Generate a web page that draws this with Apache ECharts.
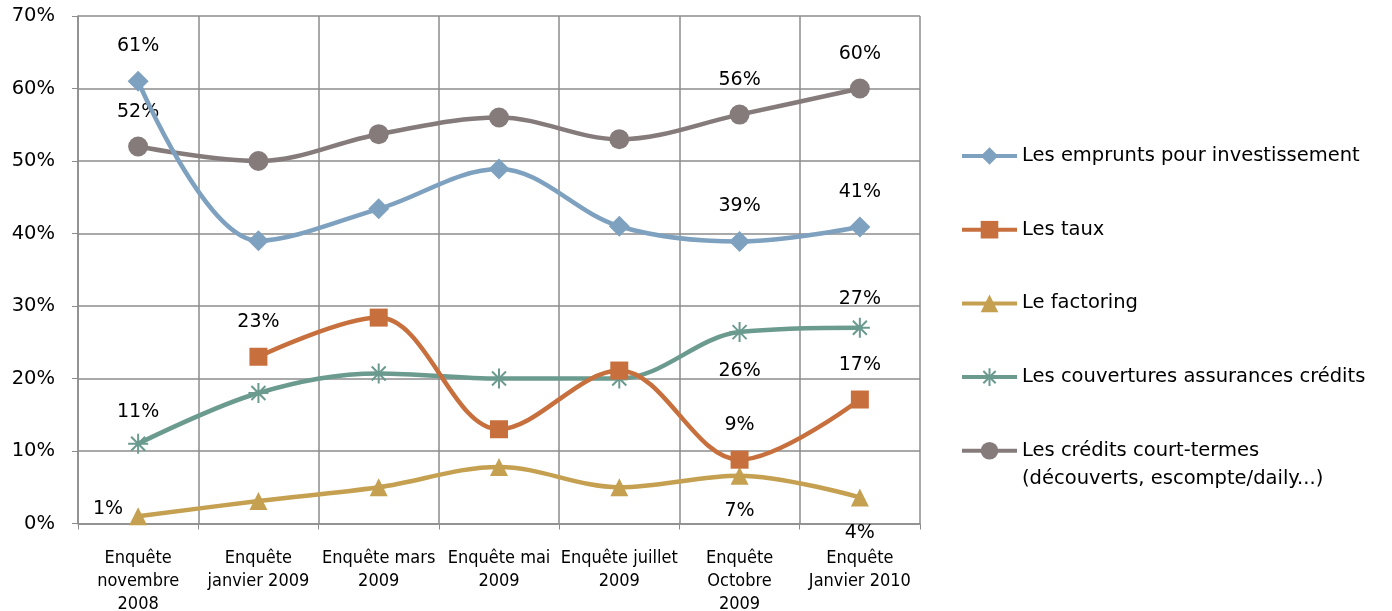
<!DOCTYPE html>
<html><head><meta charset="utf-8">
<script src="https://cdn.jsdelivr.net/npm/echarts@6/dist/echarts.min.js"></script>
<style>html,body{margin:0;padding:0;background:#fff;overflow:hidden}#c{width:1392px;height:611px}</style>
</head><body><div id="c"></div>
<script>
const categories = ["Enquête\nnovembre\n2008","Enquête\njanvier 2009","Enquête mars\n2009","Enquête mai\n2009","Enquête juillet\n2009","Enquête\nOctobre\n2009","Enquête\nJanvier 2010"];
const seriesNames = ["Les emprunts pour investissement","Les taux","Le factoring","Les couvertures assurances crédits","Les crédits court-termes"];
const lastLegendLine2 = "(découverts, escompte/daily...)";
const emprunts = [61, 39, 43.4, 48.9, 41, 38.9, 40.9];
const taux = [null, 23, 28.4, 13, 21.1, 8.8, 17.1];
const factoring = [1, 3.1, 5.0, 7.8, 5.0, 6.6, 3.6];
const couvertures = [11, 18, 20.7, 20, 20, 26.4, 27];
const credits = [52, 50, 53.7, 56, 53, 56.4, 60];
const yTicks = {min: 0, max: 70, interval: 10};

// label placement: [index, position, distance]
const labelSpecs = [
  [[0,'top',15],[5,'top',15],[6,'top',15]],
  [[1,'top',16],[5,'top',16],[6,'top',16]],
  [[0,'left',6],[5,'bottom',17],[6,'bottom',17]],
  [[0,'top',11],[5,'bottom',18],[6,'top',8]],
  [[0,'top',15],[5,'top',15],[6,'top',15]]
];
const colors = ['#7ea1bf','#c7703d','#c4a050','#6b9a8f','#857b7b'];
const symbols = ['diamond','rect','triangle','path://M0,-10 L0,10 M-10,0 L10,0 M-7,-7 L7,7 M-7,7 L7,-7','circle'];
const symSizes = [21,18,18,20,20];
const allData = [emprunts, taux, factoring, couvertures, credits];
const FONT = "'DejaVu Sans', sans-serif";
const FS = 19;
const LFS = 19.5;

function buildData(arr, specs){
  return arr.map((v,i)=>{
    const s = specs.find(p=>p[0]===i);
    if(!s || v===null) return v;
    const lab = {show:true, position:s[1], distance:s[2]};
    if(s[1]==='left') lab.offset=[0,-7];
    return {value:v, label:lab};
  });
}

const series = allData.map((arr,k)=>({
  name: seriesNames[k],
  type:'line',
  smooth:0.35,
  data: buildData(arr, labelSpecs[k]),
  symbol: symbols[k],
  symbolSize: symSizes[k],
  showAllSymbol:true,
  lineStyle:{width:4.5, color:colors[k]},
  itemStyle:{color:colors[k], borderColor:colors[k], borderWidth: k===3?2:0},
  label:{show:false, formatter:p=>Math.round(p.value)+'%', fontFamily:FONT, fontSize:FS, color:'#000'},
  emphasis:{disabled:true},
  z: 10-k
}));

const chart = echarts.init(document.getElementById('c'), null, {renderer:'canvas'});
chart.setOption({
  animation:false,
  color: colors,
  grid:{left:78, right:472, top:16, bottom:87.5, containLabel:false, outerBoundsMode:'none'},
  legend:{
    data: seriesNames,
    orient:'vertical', left:955, top:141, itemGap:53.7, itemWidth:55, itemHeight:22,
    lineStyle:{width:4},
    textStyle:{fontFamily:FONT, fontSize:LFS, color:'#000'},
    selectedMode:false
  },
  graphic:[{type:'text', left:1022, top:469, style:{text:lastLegendLine2, fontFamily:FONT, fontSize:LFS, fill:'#000'}}],
  xAxis:{
    type:'category', data:categories, boundaryGap:true,
    axisLine:{lineStyle:{color:'#8c8c8c', width:1.5}},
    axisTick:{show:true, length:6, lineStyle:{color:'#8c8c8c'}},
    splitLine:{show:true, lineStyle:{color:'#8c8c8c', width:1.5}},
    axisLabel:{interval:0, fontFamily:"'Liberation Sans Narrow','DejaVu Sans Condensed',sans-serif", fontSize:18, color:'#000', lineHeight:23, margin:23.5}
  },
  yAxis:{
    type:'value', min:yTicks.min, max:yTicks.max, interval:yTicks.interval,
    axisLine:{show:true, lineStyle:{color:'#8c8c8c', width:1.5}},
    axisTick:{show:true, length:6, lineStyle:{color:'#8c8c8c'}},
    splitLine:{show:true, lineStyle:{color:'#8c8c8c', width:1.5}},
    axisLabel:{formatter:'{value}%', fontFamily:FONT, fontSize:19.5, color:'#000', margin:23}
  },
  series: series
});
</script></body></html>
